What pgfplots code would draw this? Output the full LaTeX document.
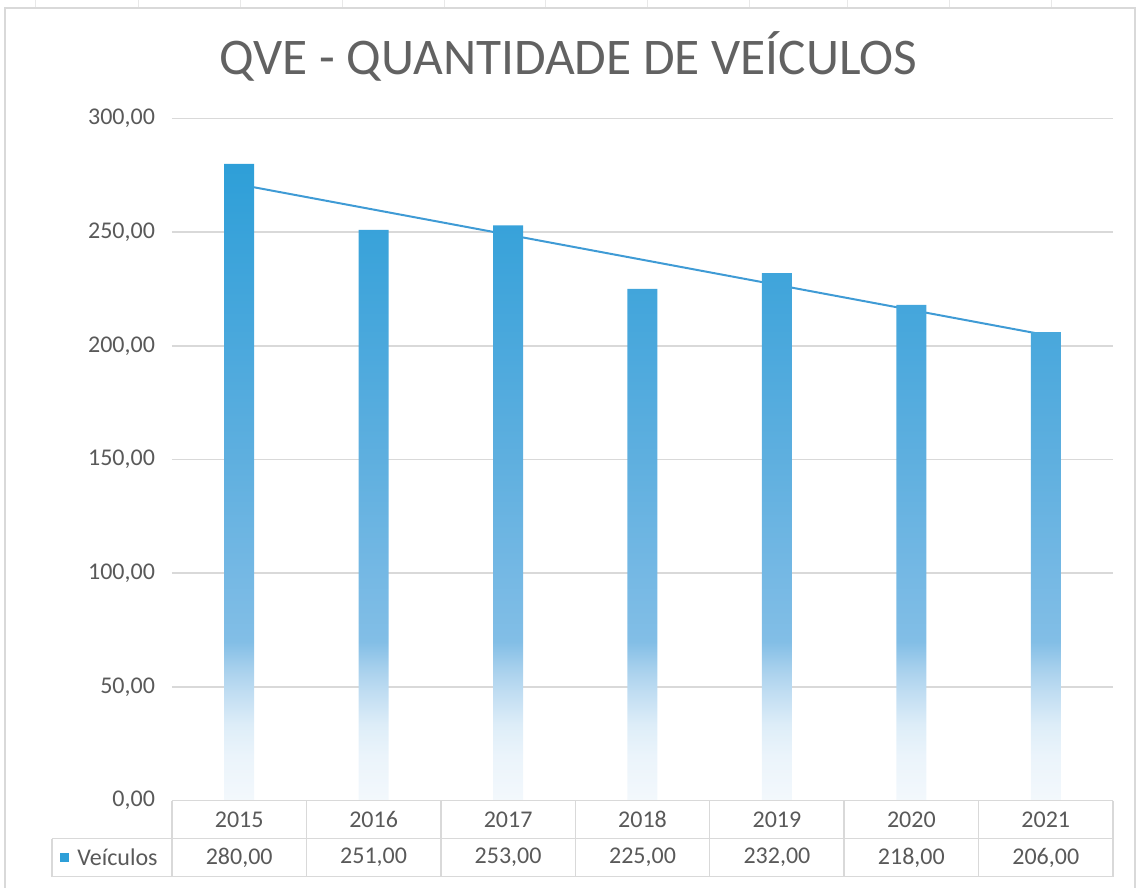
\documentclass[border=0pt]{standalone}
\usepackage{pgfplots}
\pgfplotsset{compat=1.18}
\usepackage{fontspec}
\setmainfont{Carlito}
\definecolor{txt}{HTML}{595959}
\definecolor{titlec}{HTML}{626262}
\definecolor{gridc}{HTML}{D9D9D9}
\definecolor{barc}{HTML}{2E9FD8}
\definecolor{trendc}{HTML}{3F9BD5}
\definecolor{fa}{HTML}{F3F8FC}
\definecolor{fb}{HTML}{EBF4FB}
\definecolor{fc}{HTML}{DDEDF8}
\definecolor{fd}{HTML}{C0DDF2}
\definecolor{fe}{HTML}{A5CFEC}
\definecolor{ff}{HTML}{82BEE6}
\definecolor{fg}{HTML}{74B8E4}
\definecolor{fh}{HTML}{5EAFDF}
\definecolor{fi}{HTML}{47A7DC}
% bar fades to white toward the bottom (path box = 25bp..75bp)
\pgfdeclareverticalshading{barfade}{100bp}{color(0bp)=(fa); color(25bp)=(fa); color(28.5bp)=(fb);
  color(31bp)=(fc); color(33.5bp)=(fd); color(35.5bp)=(fe); color(37.5bp)=(ff); color(43bp)=(fg);
  color(52bp)=(fh); color(62.5bp)=(fi); color(75bp)=(barc); color(100bp)=(barc)}

\begin{document}
\begin{tikzpicture}
  \begin{axis}[
    scale only axis,
    width=470.5pt, height=341pt,
    xmin=-0.5, xmax=6.5, ymin=0, ymax=300,
    ytick={0,50,...,300}, xtick=\empty,
    ymajorgrids, grid style={gridc, line width=0.75pt},
    axis line style={draw=none}, major tick length=0pt,
    yticklabel style={text=txt, font=\fontsize{12}{14}\selectfont, xshift=-5pt,
      /pgf/number format/.cd, fixed, fixed zerofill, precision=2, use comma, assume math mode=true},
  ]
    % linear trend of the series
    \addplot[sharp plot, no markers, color=trendc, line width=1pt] coordinates {(0,270.96) (6,204.75)};
    \addplot[ybar, bar width=15pt, draw=none, shade, shading=barfade]
      coordinates {(0,280) (1,251) (2,253) (3,225) (4,232) (5,218) (6,206)};
    \coordinate (o) at (rel axis cs:0,0);
  \end{axis}

  % everything else in reference pixels: X = px-172, Y = 800-py
  \begin{scope}[shift={(o)}, x=0.5pt, y=0.5pt]
    \path (-172,-87) rectangle (968,800);
    \foreach \gx in {36,138,240,342,444,545,647,749,847,949,1051}
      \draw[gridc!60, line width=0.5pt] ({\gx-172},800) -- ({\gx-172},792);
    \draw[gridc, line width=1pt] (-167,-87) -- (-167,792) -- (963,792) -- (963,-87);

    \node[titlec, font=\fontsize{25.7}{30}\selectfont] at (396.5,744) {QVE - QUANTIDADE DE VEÍCULOS};

    \begin{scope}[gridc, line width=0.75pt]
      \draw (0,0) -- (941,0);
      \draw (-120,-38) -- (941,-38);
      \draw (-120,-76) -- (941,-76);
      \draw (-120,-38) -- (-120,-76);
      \foreach \i in {0,...,7} \draw ({134.43*\i},0) -- ({134.43*\i},-76);
    \end{scope}
    \foreach \yr [count=\i from 0] in {2015,2016,2017,2018,2019,2020,2021}
      \node[txt, font=\fontsize{12}{14}\selectfont] at ({134.43*(\i+0.5)},-19) {\yr};
    \foreach \v [count=\i from 0] in {{280,00},{251,00},{253,00},{225,00},{232,00},{218,00},{206,00}}
      \node[txt, font=\fontsize{12}{14}\selectfont] at ({134.43*(\i+0.5)},-57) {\v};
    \fill[barc] (-112,-61) rectangle (-103,-52);
    \node[txt, font=\fontsize{12}{14}\selectfont, anchor=west, inner sep=0pt] at (-95,-57) {Veículos};
  \end{scope}
\end{tikzpicture}
\end{document}
